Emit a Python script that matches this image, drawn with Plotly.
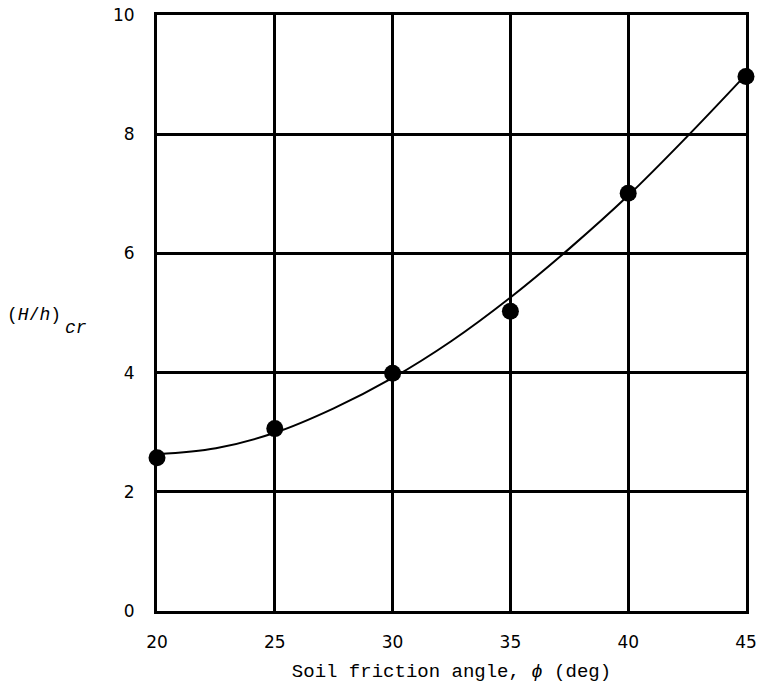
import plotly.graph_objects as go

# data points
phi = [20, 25, 30, 35, 40, 45]
ratio = [2.57, 3.06, 3.99, 5.03, 7.01, 8.97]

# smooth fitted curve
curve_phi = [20, 22.5, 25, 27.5, 30, 32.5, 35, 37.5, 40, 42.5, 45]
curve_ratio = [2.63, 2.73, 2.99, 3.40, 3.91, 4.53, 5.26, 6.08, 6.97, 7.96, 9.0]

x_ticks = [20, 25, 30, 35, 40, 45]
y_ticks = [0, 2, 4, 6, 8, 10]

fig = go.Figure()
fig.add_trace(go.Scatter(x=curve_phi, y=curve_ratio, mode="lines",
                         line=dict(color="black", width=2, shape="spline", smoothing=1.0),
                         hoverinfo="skip", showlegend=False, cliponaxis=False))
fig.add_trace(go.Scatter(x=phi, y=ratio, mode="markers",
                         marker=dict(color="black", size=17),
                         showlegend=False, cliponaxis=False))

mono = "Liberation Mono"
fig.update_layout(
    width=760, height=687,
    margin=dict(l=157, r=14, t=15, b=76, autoexpand=False),
    paper_bgcolor="white", plot_bgcolor="white",
    xaxis=dict(range=[20, 45], tickvals=x_ticks, showgrid=True, gridcolor="black", gridwidth=2.5,
               showline=True, linecolor="black", linewidth=3, mirror=True, zeroline=False,
               ticks="", ticklabelstandoff=14, automargin=False,
               tickfont=dict(family="DejaVu Sans", size=17, color="black"),
               title=dict(text="Soil friction angle, <i>ϕ</i> (deg)", standoff=13,
                          font=dict(family=mono, size=19, color="black"))),
    yaxis=dict(range=[0, 10], tickvals=y_ticks, showgrid=True, gridcolor="black", gridwidth=2.5,
               showline=True, linecolor="black", linewidth=3, mirror=True, zeroline=False,
               ticks="", ticklabelstandoff=16, automargin=False,
               tickfont=dict(family="DejaVu Sans", size=17, color="black")),
    annotations=[
        dict(text="(<i>H</i>/<i>h</i>)", xref="paper", yref="paper",
             x=-0.258, y=0.497, xanchor="left", yanchor="middle", showarrow=False,
             font=dict(family=mono, size=18, color="black")),
        dict(text="<i>cr</i>", xref="paper", yref="paper",
             x=-0.16, y=0.474, xanchor="left", yanchor="middle", showarrow=False,
             font=dict(family=mono, size=18, color="black")),
    ],
)

fig.write_html("out.html", config={"displayModeBar": False},
               post_script="document.body.style.margin='0';")
